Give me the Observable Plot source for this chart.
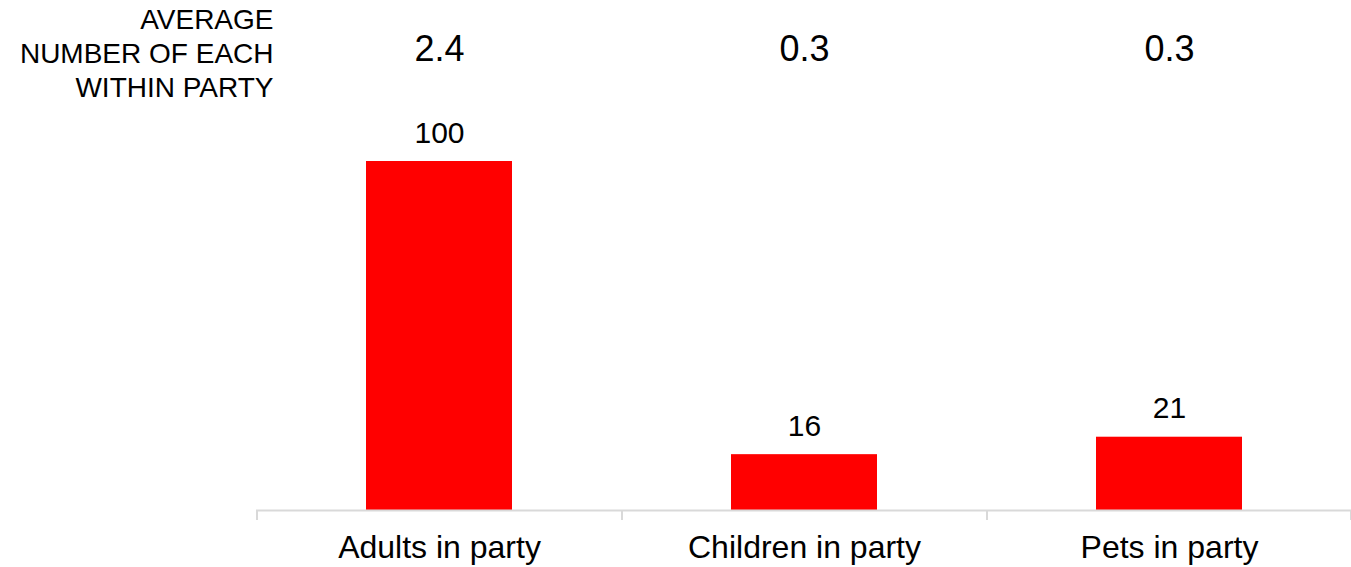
<!DOCTYPE html>
<html>
<head>
<meta charset="utf-8">
<script src="https://cdn.jsdelivr.net/npm/d3@7"></script>
<script src="https://cdn.jsdelivr.net/npm/@observablehq/plot@0.6"></script>
<style>
  html, body { margin: 0; padding: 0; background: #fff; }
  svg { display: block; }
</style>
</head>
<body>
<div id="chart"></div>
<script>
const categories = ["Adults in party", "Children in party", "Pets in party"];
const percentValues = [100, 16, 21];
const averageValues = ["2.4", "0.3", "0.3"];
const noteLabel = "AVERAGE\nNUMBER OF EACH\nWITHIN PARTY";

const data = categories.map((c, i) => ({cat: c, value: percentValues[i], avg: averageValues[i]}));
const FONT = "'Liberation Sans', Arial, sans-serif";

const chart = Plot.plot({
  width: 1351,
  height: 567,
  marginLeft: 256,
  marginRight: 0,
  marginTop: 161,
  marginBottom: 57,
  style: {fontFamily: FONT, fontSize: "30px", color: "#000", background: "#fff", overflow: "visible"},
  x: {domain: categories, paddingInner: 0.6, paddingOuter: 0.3, axis: null, label: null},
  y: {domain: [0, 100], axis: null},
  marks: [
    Plot.barY(data, {x: "cat", y: "value", fill: "#ff0000"}),
    Plot.ruleY([0], {stroke: "#d9d9d9", strokeWidth: 2}),
    Plot.axisX({tickSize: 10, tickFormat: () => "", label: null, stroke: "#d9d9d9", strokeWidth: 2, dx: -182.5}),
    Plot.axisX({ticks: [categories[categories.length - 1]], tickSize: 10, tickFormat: () => "", label: null, stroke: "#d9d9d9", strokeWidth: 2, dx: 181.5}),
    Plot.axisX({tickSize: 0, tickPadding: 25, fontSize: 32, fill: "#000", label: null}),
    Plot.text(data, {x: "cat", y: "value", text: d => String(d.value), lineAnchor: "bottom", dy: -19, fontSize: 30, fill: "#000"}),
    Plot.text(data, {x: "cat", text: "avg", frameAnchor: "top", lineAnchor: "bottom", dy: -101, fontSize: 36, fill: "#000"}),
    Plot.text([noteLabel], {text: d => d, frameAnchor: "top-left", textAnchor: "end", lineAnchor: "top", dx: 17, dy: -156, fontSize: 28, lineHeight: 1.2, fill: "#000"})
  ]
});
document.getElementById("chart").appendChild(chart);
</script>
</body>
</html>
